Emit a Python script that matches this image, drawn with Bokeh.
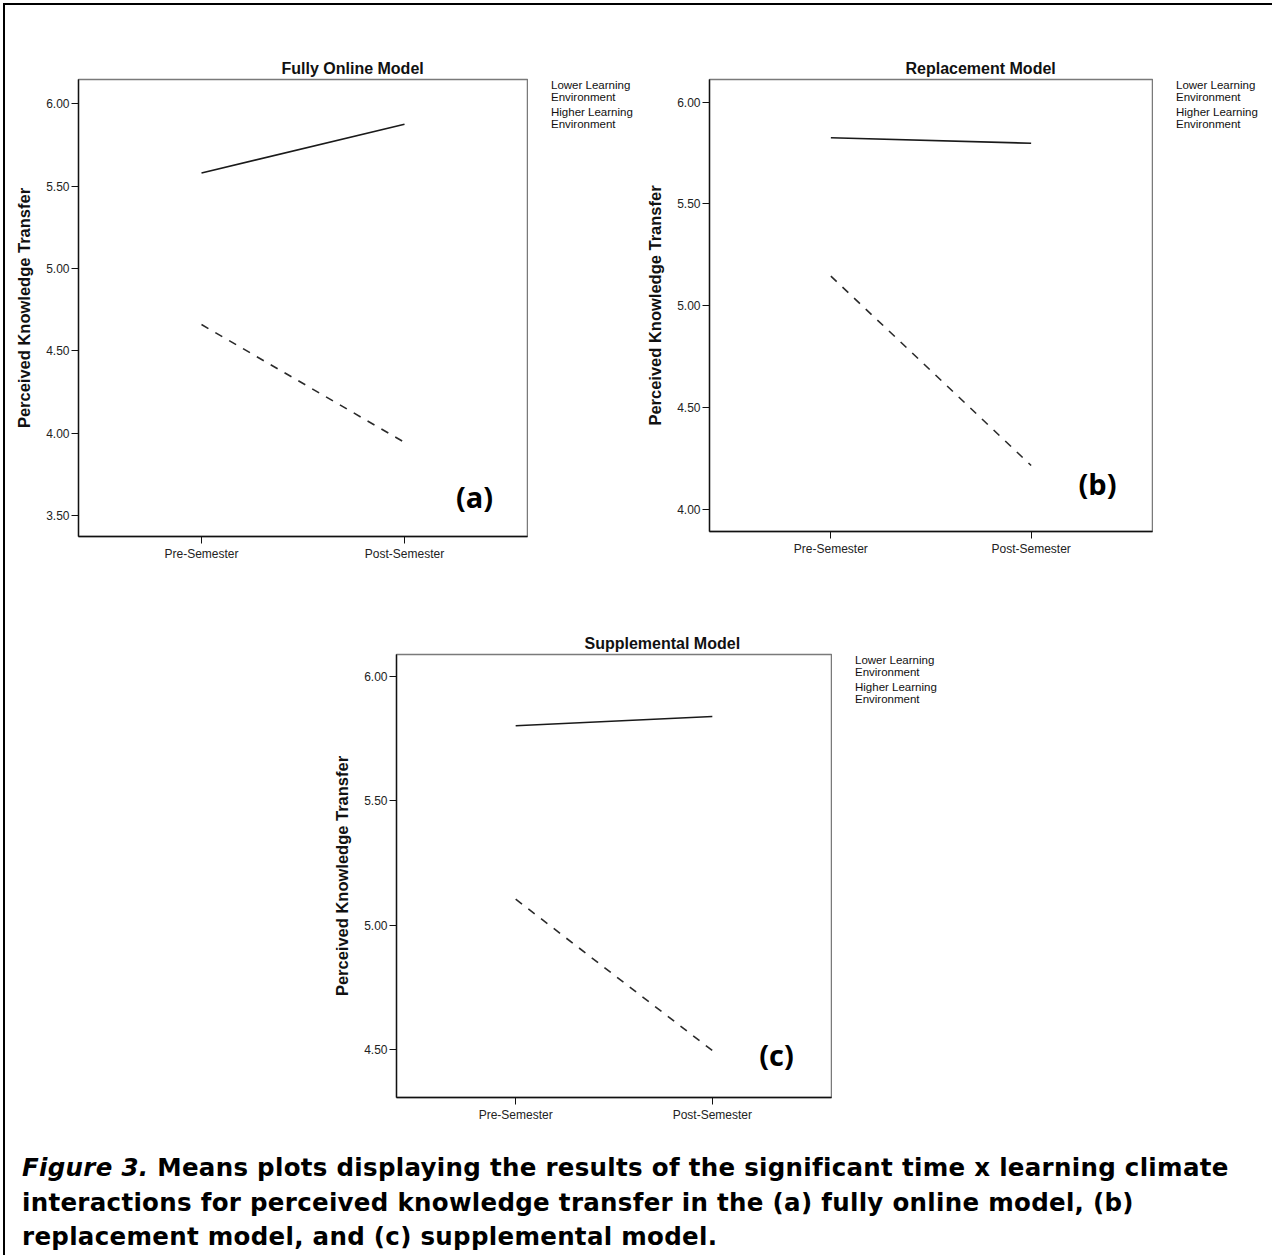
from bokeh.plotting import figure
from bokeh.models import (FactorRange, Range1d, SingleIntervalTicker, NumeralTickFormatter,
                          Legend, LegendItem, Label, Title, Div, Spacer)
from bokeh.layouts import column, row
from bokeh.embed import file_html
from bokeh.resources import INLINE

# ---------------- data ----------------
categories = ["Pre-Semester", "Post-Semester"]
series_names = ["Lower Learning\nEnvironment", "Higher Learning\nEnvironment"]

titles = ["Fully Online Model", "Replacement Model", "Supplemental Model"]
tags = ["(a)", "(b)", "(c)"]

online_lower = [4.66, 3.945]
online_higher = [5.58, 5.875]

replacement_lower = [5.146, 4.216]
replacement_higher = [5.825, 5.798]

supplemental_lower = [5.104, 4.494]
supplemental_higher = [5.803, 5.840]

y_label = "Perceived Knowledge Transfer"
x_label = "Time"
caption_lead = "Figure 3."
caption_rest = ("Means plots displaying the results of the significant time x learning climate<br>"
                "interactions for perceived knowledge transfer in the (a) fully online model, (b)<br>"
                "replacement model, and (c) supplemental model.")

SANS = "Liberation Sans"
LOW_STYLE = dict(line_color="#2a2a2a", line_width=1.6, line_dash="8 8")
HIGH_STYLE = dict(line_color="#1a1a1a", line_width=1.6)


def make_panel(title, tag, lower, higher, y_start, y_end,
               fw, fh, bl, br, bt, bb, title_offset, tag_pos):
    p = figure(x_range=FactorRange(factors=categories, range_padding=0.106,
                                   range_padding_units="percent"),
               y_range=Range1d(y_start, y_end),
               frame_width=fw, frame_height=fh,
               width=fw + bl + br, height=fh + bt + bb,
               min_border_left=bl, min_border_right=br,
               min_border_top=bt, min_border_bottom=bb,
               output_backend="svg", toolbar_location=None,
               background_fill_color="white", border_fill_color="white")
    p.title = Title(text=title, align="left", offset=title_offset,
                    text_font=SANS, text_font_size="16px", text_font_style="bold",
                    text_color="#111111", standoff=6)
    p.xgrid.visible = False
    p.ygrid.visible = False
    p.outline_line_color = "#7a7a7a"
    p.outline_line_width = 1.5

    for ax in (p.xaxis[0], p.yaxis[0]):
        ax.axis_line_color = "#111111"
        ax.axis_line_width = 1.3
        ax.major_tick_line_color = "#111111"
        ax.major_tick_out = 7
        ax.major_tick_in = 0
        ax.minor_tick_line_color = None
        ax.major_label_text_font = SANS
        ax.major_label_text_font_size = "12px"
        ax.major_label_text_color = "#222222"
        ax.axis_label_text_font = SANS
        ax.axis_label_text_font_size = "16.5px"
        ax.axis_label_text_font_style = "bold"
        ax.axis_label_text_color = "#111111"

    p.xaxis.axis_label = x_label
    p.xaxis.major_label_standoff = 3
    p.xaxis.axis_label_standoff = 13
    p.yaxis.axis_label = y_label
    p.yaxis.major_label_standoff = 2
    p.yaxis.axis_label_standoff = 10
    p.yaxis.ticker = SingleIntervalTicker(interval=0.5, num_minor_ticks=0)
    p.yaxis.formatter = NumeralTickFormatter(format="0.00")

    p.line(categories, lower, **LOW_STYLE)
    p.line(categories, higher, **HIGH_STYLE)

    p.add_layout(Label(x=tag_pos[0], y=tag_pos[1], x_units="screen", y_units="screen",
                       text=tag, text_font="Open Sans", text_font_size="29px",
                       text_font_style="bold", text_color="#000000",
                       text_align="center", text_baseline="middle"))
    return p


def make_key(width, height, top_gap):
    """Narrow strip to the right of a panel that holds its line-style key."""
    k = figure(width=width, height=height,
               min_border_left=0, min_border_right=0,
               min_border_top=top_gap, min_border_bottom=0,
               x_range=Range1d(0, 1), y_range=Range1d(0, 1),
               x_axis_location=None, y_axis_location=None,
               output_backend="svg", toolbar_location=None,
               background_fill_color="white", border_fill_color="white")
    k.outline_line_color = None
    k.xgrid.visible = False
    k.ygrid.visible = False
    r_low = k.line(x=[], y=[], **LOW_STYLE)
    r_high = k.line(x=[], y=[], **HIGH_STYLE)
    legend = Legend(items=[LegendItem(label=series_names[0], renderers=[r_low]),
                           LegendItem(label=series_names[1], renderers=[r_high])],
                    location="top_left", padding=0, margin=0, spacing=3,
                    border_line_color=None, background_fill_alpha=0,
                    glyph_width=21, glyph_height=20, label_standoff=2,
                    label_height=20, label_width=20,
                    label_text_font=SANS, label_text_font_size="11.5px",
                    label_text_color="#111111", label_text_line_height=1.04)
    k.add_layout(legend, "center")
    return k


pa = make_panel(titles[0], tags[0], online_lower, online_higher, 3.374, 6.147,
                fw=449, fh=457, bl=73, br=1, bt=37, bb=66,
                title_offset=203, tag_pos=(396, 40))
ka = make_key(112, 560, 70)
pb = make_panel(titles[1], tags[1], replacement_lower, replacement_higher, 3.892, 6.111,
                fw=443, fh=452, bl=69, br=1, bt=43, bb=65,
                title_offset=196, tag_pos=(388, 48))
kb = make_key(117, 560, 74)
pc = make_panel(titles[2], tags[2], supplemental_lower, supplemental_higher, 4.305, 6.09,
                fw=435, fh=443, bl=70, br=1, bt=59, bb=63,
                title_offset=188, tag_pos=(380, 43))
kc = make_key(115, 565, 89)

INNER_W = 1265
INNER_H = 560 + 565 + 125

caption = Div(
    text=('<div style="font-family: \'DejaVu Sans\'; font-weight: bold; font-size: 24.5px; '
          'letter-spacing: 0.3px; line-height: 34.5px; padding-left: 12px; padding-top: 16px; '
          'white-space: nowrap; color: #000;">'
          '<i>' + caption_lead + '</i> ' + caption_rest + '</div>'),
    width=INNER_W, height=125)

inner = column(
    row(pa, ka, pb, kb),
    row(Spacer(width=321, height=565), pc, kc),
    caption,
)

EDGE = {"background-color": "#000000"}

root = column(
    Spacer(width=1272, height=3),
    row(Spacer(width=3, height=2), Spacer(width=INNER_W + 4, height=2, styles=EDGE)),
    row(Spacer(width=3, height=INNER_H),
        Spacer(width=2, height=INNER_H, styles=EDGE),
        inner,
        Spacer(width=2, height=INNER_H, styles=EDGE)),
    row(Spacer(width=3, height=2), Spacer(width=INNER_W + 4, height=2, styles=EDGE)),
)

open("out.html", "w").write(file_html(root, INLINE))
